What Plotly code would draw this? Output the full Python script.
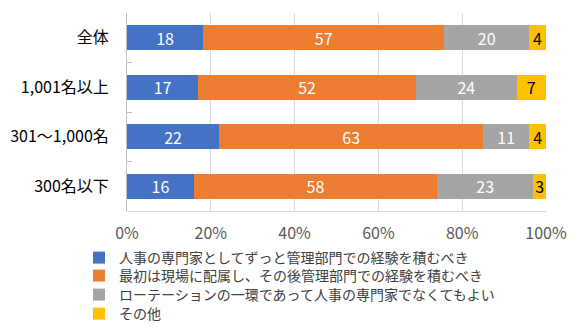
import plotly.graph_objects as go

categories = ["全体", "1,001名以上", "301～1,000名", "300名以下"]
series_names = [
    "人事の専門家としてずっと管理部門での経験を積むべき",
    "最初は現場に配属し、その後管理部門での経験を積むべき",
    "ローテーションの一環であって人事の専門家でなくてもよい",
    "その他",
]
s1 = [18, 17, 22, 16]
s2 = [57, 52, 63, 58]
s3 = [20, 24, 11, 23]
s4 = [4, 7, 4, 3]
series_values = [s1, s2, s3, s4]
colors = ["#4472C4", "#ED7D31", "#A5A5A5", "#FFC000"]
label_colors = ["#FFFFFF", "#FFFFFF", "#FFFFFF", "#000000"]
x_ticks = [0, 20, 40, 60, 80, 100]
x_tick_labels = ["0%", "20%", "40%", "60%", "80%", "100%"]

FONT = "Noto Sans CJK JP"
W, H = 577, 330
legend_ids = ["legend", "legend2", "legend3", "legend4"]
legend_row_centers = [257, 275, 294, 313]

fig = go.Figure()
for name, vals, col, lc, lid in zip(series_names, series_values, colors, label_colors, legend_ids):
    fig.add_trace(go.Bar(
        y=categories, x=vals, name=name, orientation="h",
        marker=dict(color=col, line=dict(width=0)),
        text=[str(v) for v in vals], texttemplate="%{text}",
        textposition="inside", insidetextanchor="middle",
        textangle=0, constraintext="none",
        insidetextfont=dict(color=lc, size=16, family=FONT),
        hoverinfo="skip", legend=lid,
    ))

legends = {}
for lid, cy in zip(legend_ids, legend_row_centers):
    legends[lid] = dict(
        orientation="v",
        xref="container", yref="container",
        x=79 / W, y=1 - (cy - 15) / H, xanchor="left", yanchor="top",
        font=dict(size=14, color="#404040", family=FONT),
        bgcolor="rgba(0,0,0,0)",
    )

fig.update_layout(
    width=W, height=H,
    barmode="stack", barnorm="percent", bargap=0.495,
    paper_bgcolor="white", plot_bgcolor="white",
    margin=dict(l=127, r=31, t=13, b=119, autoexpand=False),
    font=dict(family=FONT, color="#404040"),
    showlegend=True,
    xaxis=dict(
        range=[0, 100], tickvals=x_ticks, ticktext=x_tick_labels,
        showgrid=True, gridcolor="#D9D9D9", gridwidth=1,
        zeroline=False, showline=True, linecolor="#D9D9D9", linewidth=1,
        ticks="", ticklabelstandoff=8, tickangle=0, automargin=False,
        tickfont=dict(size=16, color="#595959", family=FONT),
        fixedrange=True,
    ),
    yaxis=dict(
        autorange="reversed", type="category",
        showgrid=False, zeroline=False,
        showline=True, linecolor="#BFBFBF", linewidth=1,
        ticks="inside", tickson="boundaries", ticklen=5, tickcolor="#BFBFBF",
        ticklabelstandoff=14, automargin=False,
        tickfont=dict(size=16, color="#000000", family=FONT),
        fixedrange=True,
    ),
    **legends,
)

fig.write_html("out.html")
